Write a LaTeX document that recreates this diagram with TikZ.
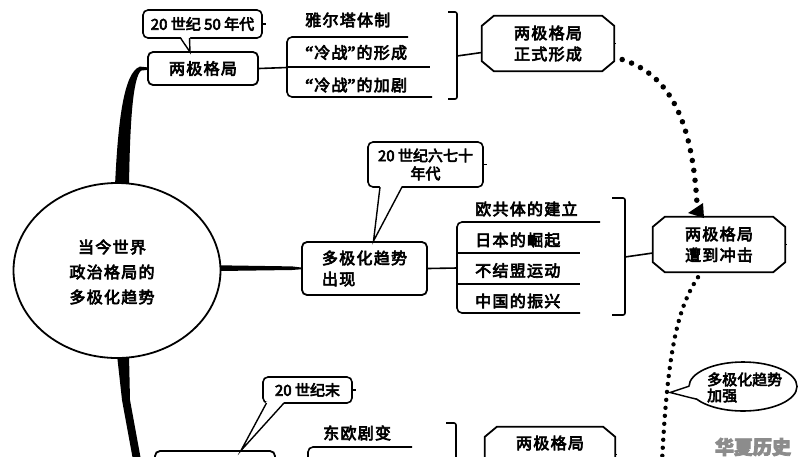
\documentclass[tikz,border=0pt]{standalone}
\usepackage{fontspec}
\setmainfont{Noto Sans CJK SC}[FakeBold=4]
\newfontfamily\qf{Liberation Serif}[FakeBold=4]
\usetikzlibrary{shapes.geometric}
\newcommand\fsA{\fontsize{16}{21}\selectfont\addfontfeature{LetterSpace=8}}
\newcommand\fsAi{\fontsize{16}{25}\selectfont\addfontfeature{LetterSpace=8}}
\newcommand\fsB{\fontsize{15}{18}\selectfont}
\newcommand\fsC{\fontsize{15}{16}\selectfont}
\newcommand\fsW{\fontsize{19}{20}\selectfont}
\newcommand\myopq{\makebox[9pt][l]{\qf\fontsize{18}{21}\selectfont “}}
\newcommand\myclq{\makebox[9pt][l]{\qf\fontsize{18}{21}\selectfont ”}}
\newcommand\octframe[1]{\draw[line width=1.8pt] ([xshift=12pt]#1.north west) -- ([xshift=-12pt]#1.north east) -- ([yshift=-10pt]#1.north east) -- ([yshift=10pt]#1.south east) -- ([xshift=-12pt]#1.south east) -- ([xshift=12pt]#1.south west) -- ([yshift=10pt]#1.south west) -- ([yshift=-10pt]#1.north west) -- cycle;}
\begin{document}
\begin{tikzpicture}[x=1pt,y=-1pt,
  txt/.style={font=\fsA, inner sep=0pt},
  box/.style={draw, line width=1.8pt, rounded corners=5pt, inner sep=0pt, font=\fsA},
  call/.style={draw, line width=1.6pt, rounded corners=5pt, inner sep=0pt, fill=white, font=\fsB},
  oct/.style={inner sep=0pt, minimum width=132pt, minimum height=55pt, align=center, font=\fsA},
  ln/.style={line width=1.6pt},
  tail/.style={line width=1.4pt, line join=miter},
  tick/.style={line width=1.2pt},
  dotsA/.style={line width=5.5pt, line cap=round, dash pattern=on 0pt off 10pt},
  dotsB/.style={line width=4.4pt, line cap=round, dash pattern=on 0pt off 8pt}]
\useasboundingbox (0,0) rectangle (800,456);
\clip (0,0) rectangle (800,456);
\fill[white] (0,0) rectangle (800,456);

% brush strokes from the core
\fill (115,186) .. controls (118,120) and (124,72) .. (140,66.6) -- (148,67.4) -- (148,69.8) -- (141,70.6) .. controls (133,78) and (130,120) .. (129,186) -- cycle;
\fill (117,355) -- (122,400) -- (133,460) -- (141,460) -- (130,400) -- (129,355) -- cycle;
\fill (219,265.3) -- (292,266.4) -- (302,267.6) -- (302,269.2) -- (292,270) -- (219,271) -- cycle;

% core
\node[ellipse, draw, line width=1.8pt, fill=white, minimum width=207pt, minimum height=175pt] (core) at (117,270.5) {};
\node[txt, font=\fsAi, align=center] (coret) at (112,272) {当今世界\\政治格局的\\多极化趋势};

% ---- group 1
\node[box, minimum width=110pt, minimum height=33pt] (b1) at (203,68.5) {两极格局};
\node[call, minimum width=119pt, minimum height=28pt] (c1) at (202.5,24) {20 世纪 50 年代};
\fill[white] (180.5,36.5) -- (190,52) -- (190,36.5) -- cycle;
\draw[tail] (180.5,38) -- (190,52) -- (189.5,38);
\draw[tick] (c1.east) -- ++(3,0);

\draw[ln] (b1.east) -- (287,67.5);
\draw[ln, rounded corners=5pt] (408,37) -- (287,37) -- (287,97) -- (432,97);
\draw[ln] (287,67) -- (430,67);
\node[txt, anchor=west] (t11) at (305,20) {雅尔塔体制};
\node[txt, anchor=west] (t12) at (305,52.5) {\myopq 冷战\myclq 的形成};
\node[txt, anchor=west] (t13) at (305,85) {\myopq 冷战\myclq 的加剧};

\draw[ln, rounded corners=2pt] (448,12) -- (457,12) -- (457,99) -- (448,99);
\node[oct] (o1) at (548,43.5) {两极格局\\正式形成};
\octframe{o1}
\draw[ln] (457,56) -- ([yshift=-9pt]o1.west);
\draw[tick] (o1.east) -- ++(2,0);

% ---- group 2
\node[call, minimum width=115pt, minimum height=45pt, align=center] (c2) at (425.5,164.5) {20 世纪六七十\\年代};
\node[box, minimum width=125pt, minimum height=53pt, align=left, font=\fsA] (b2) at (364.5,268.5) {多极化趋势\\出现};
\fill[white] (380,185.5) -- (374,241) -- (402,185.5) -- cycle;
\draw[tail] (380,187) -- (373.5,241) -- (402,187);
\draw[tick] (c2.east) -- ++(3,0);

\draw[ln] (b2.east) -- (457,268);
\draw[ln, rounded corners=5pt] (600,222) -- (457,222) -- (457,313) -- (580,313);
\draw[ln] (457,253) -- (580,253);
\draw[ln] (457,284) -- (580,284);
\node[txt, anchor=west] (t21) at (475,209) {欧共体的建立};
\node[txt, anchor=west] (t22) at (475,240) {日本的崛起};
\node[txt, anchor=west] (t23) at (475,270.5) {不结盟运动};
\node[txt, anchor=west] (t24) at (475,301) {中国的振兴};

\draw[ln, rounded corners=2pt] (612,198) -- (625,198) -- (625,315) -- (612,315);
\node[oct] (o2) at (719,244.5) {两极格局\\遭到冲击};
\octframe{o2}
\draw[ln] (625,257) -- ([yshift=-8.5pt]o2.west);
\draw[tick] (o2.east) -- ++(2,0);

% dotted connectors
\draw[dotsA] ([xshift=8pt,yshift=-16pt]o1.east) .. controls (670,75) and (692,120) .. ([xshift=-22pt,yshift=13pt]o2.north);
\fill (703,203) -- (704,218) -- (688,213) -- cycle;

\node[ellipse, draw, line width=1.6pt, fill=white, inner sep=0pt, minimum width=108pt, minimum height=49pt] (c3) at (743,386.5) {};
\fill[white] (690.5,385.5) -- (672,392.5) -- (697.5,398.5) -- cycle;
\draw[tail] (689.5,386) -- (670,392.5) -- (697,399.3);
\node[txt, font=\fsC, anchor=west, align=left] (c3t) at (707,387.5) {多极化趋势\\加强};

\draw[dotsB] ([xshift=-21pt,yshift=-5pt]o2.south) .. controls (680,305) and (668,340) .. (662,462);

% ---- group 3 (cut by the lower edge)
\node[call, minimum width=89pt, minimum height=26pt] (c4) at (307.5,390) {20 世纪末};
\node[box, minimum width=120pt, minimum height=53pt] (b4) at (215,477.5) {};
\fill[white] (266.5,401.5) -- (241,450) -- (284.5,401.5) -- cycle;
\draw[tail] (266.5,403) -- (241,450.5) -- (284,403);
\draw[tick] (c4.east) -- ++(3,0);

\node[txt, anchor=west] (t31) at (323,433) {东欧剧变};
\draw[ln, rounded corners=5pt] (412,447) -- (308,447) -- (308,470);
\draw[ln, rounded corners=2pt] (446,423) -- (456,423) -- (456,470);

\node[inner sep=0pt, minimum width=130pt, minimum height=55pt] (o3) at (550,454.5) {};
\octframe{o3}
\node[txt] (o3t) at (550,443) {两极格局};
\draw[tick] (o3.east) -- ++(2,0);

% watermark
\node[font=\fsW\bfseries, text=black!45, inner sep=0pt] (wm) at (753,447) {华夏历史};
\end{tikzpicture}
\end{document}
